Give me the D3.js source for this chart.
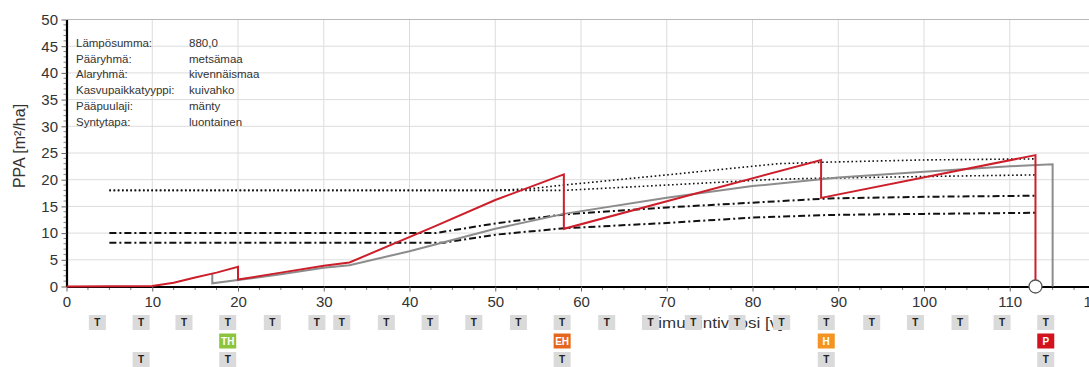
<!DOCTYPE html>
<html><head><meta charset="utf-8">
<script src="https://cdn.jsdelivr.net/npm/d3@7"></script>
<style>
body{margin:0;background:#fff;}
svg{display:block;font-family:"Liberation Sans",Arial,sans-serif;}
</style>
</head><body>
<svg id="c" width="1089" height="367"></svg>
<script>
// ---- data ----
const redX = [0, 10, 12.5, 15, 17.5, 20, 20, 25, 30, 33, 43, 50, 58, 58, 88, 88, 113, 113];
const redY = [0, 0.1, 0.7, 1.7, 2.6, 3.7, 1.3, 2.6, 3.9, 4.5, 11.3, 16.2, 21.0, 10.8, 23.7, 16.6, 24.6, 0];

const grayX = [17, 17, 20, 25, 30, 33, 40, 50, 58, 70, 80, 90, 100, 110, 115, 115];
const grayY = [2.5, 0.6, 1.2, 2.3, 3.5, 4.0, 6.6, 10.8, 13.6, 16.6, 18.8, 20.4, 21.5, 22.5, 22.9, 0];

const dotUpperX = [5, 50, 54, 58, 70, 83, 89, 100, 113];
const dotUpperY = [18, 18, 18.3, 19.0, 20.9, 23.0, 23.3, 23.7, 23.9];
const dotLowerX = [5, 58, 70, 83, 89, 100, 113];
const dotLowerY = [18, 18, 19.0, 20.1, 20.3, 20.6, 20.9];

const ddUpperX = [5, 43, 50, 58, 70, 80, 89, 100, 113];
const ddUpperY = [10, 10, 11.8, 13.5, 14.8, 15.7, 16.5, 16.8, 17.0];
const ddLowerX = [5, 44, 50, 58, 70, 80, 89, 100, 113];
const ddLowerY = [8.2, 8.2, 9.7, 10.9, 11.9, 12.9, 13.4, 13.6, 13.8];

const endMarkerX = [113];
const endMarkerY = [0];

const xTicks = [0, 10, 20, 30, 40, 50, 60, 70, 80, 90, 100, 110, 120];
const yTicks = [0, 5, 10, 15, 20, 25, 30, 35, 40, 45, 50];

const infoLabels = ["Lämpösumma:", "Pääryhmä:", "Alaryhmä:", "Kasvupaikkatyyppi:", "Pääpuulaji:", "Syntytapa:"];
const infoValues = ["880,0", "metsämaa", "kivennäismaa", "kuivahko", "mänty", "luontainen"];

const tagRow1Years = [3.6, 8.7, 13.7, 18.8, 24.0, 29.2, 32.1, 37.3, 42.4, 47.5, 52.7, 57.8, 63.0, 68.1, 73.1, 78.2, 83.4, 88.6, 93.9, 99.0, 104.2, 109.1, 114.2];
const tagRow2Years = [18.8, 57.8, 88.6, 114.2];
const tagRow2Labels = ["TH", "EH", "H", "P"];
const tagRow2Colors = ["#8cc43c", "#e4661f", "#f39422", "#d2121c"];
const tagRow3Years = [8.7, 18.8, 57.8, 88.6, 114.2];

const yLabel = "PPA [m²/ha]";
const xLabel = "Simulointivuosi [v]";

// ---- chart ----
const svg = d3.select("#c");
const x = d3.scaleLinear().domain([0, 120]).range([66.5, 1095.5]);
const y = d3.scaleLinear().domain([0, 50]).range([286.5, 19.5]);

// grid
svg.append("g").selectAll("line").data(xTicks.filter(d => d > 0)).join("line")
  .attr("x1", d => x(d)).attr("x2", d => x(d)).attr("y1", y(50)).attr("y2", y(0))
  .attr("stroke", "#dcdcdc").attr("stroke-width", 1);
svg.append("g").selectAll("line").data(yTicks.filter(d => d > 0)).join("line")
  .attr("x1", x(0)).attr("x2", x(120)).attr("y1", d => y(d)).attr("y2", d => y(d))
  .attr("stroke", d => d === 50 ? "#b8b8b8" : "#dcdcdc").attr("stroke-width", 1);

// minor ticks
svg.append("g").selectAll("line").data(d3.range(0, 120.1, 2.5).filter(d => d % 10 !== 0)).join("line")
  .attr("x1", d => x(d)).attr("x2", d => x(d)).attr("y1", y(0)).attr("y2", y(0) + 3.5)
  .attr("stroke", "#777").attr("stroke-width", 1);
svg.append("g").selectAll("line").data(d3.range(0, 50.1, 1).filter(d => d % 5 !== 0)).join("line")
  .attr("x1", x(0) - 3).attr("x2", x(0)).attr("y1", d => y(d)).attr("y2", d => y(d))
  .attr("stroke", "#888").attr("stroke-width", 1);

// axes
const xAxis = svg.append("g").attr("transform", `translate(0,${y(0)})`)
  .call(d3.axisBottom(x).tickValues(xTicks).tickFormat(d3.format("d")).tickSize(5).tickSizeOuter(0).tickPadding(5));
const yAxis = svg.append("g").attr("transform", `translate(${x(0)},0)`)
  .call(d3.axisLeft(y).tickValues(yTicks).tickFormat(d3.format("d")).tickSize(5).tickSizeOuter(0).tickPadding(3.5));
[xAxis, yAxis].forEach(g => {
  g.select(".domain").attr("stroke", "#000").attr("stroke-width", 2.2);
  g.selectAll(".tick line").attr("stroke", "#666");
  g.selectAll(".tick text").attr("fill", "#333").style("font-size", "15px")
    .style("font-family", '"Liberation Sans",Arial,sans-serif');
});

// y label
svg.append("text").attr("transform", `translate(25,146) rotate(-90)`).attr("text-anchor", "middle")
  .attr("fill", "#333").style("font-size", "16px").text(yLabel);

// info text
const info = svg.append("g").style("font-size", "11.5px").attr("fill", "#333");
info.selectAll("text.l").data(infoLabels).join("text").attr("class", "l")
  .attr("x", 76).attr("y", (d, i) => 47 + i * 15.7).text(d => d);
info.selectAll("text.v").data(infoValues).join("text").attr("class", "v")
  .attr("x", 189).attr("y", (d, i) => 47 + i * 15.7).text(d => d);

// lines
const line = d3.line().x(d => x(d[0])).y(d => y(d[1]));
const zip = (a, b) => a.map((v, i) => [v, b[i]]);

const g = svg.append("g").attr("fill", "none");
g.append("path").attr("d", line(zip(dotUpperX, dotUpperY))).attr("stroke", "#111").attr("stroke-width", 1.6).attr("stroke-dasharray", "1.6,2.6");
g.append("path").attr("d", line(zip(dotLowerX, dotLowerY))).attr("stroke", "#111").attr("stroke-width", 1.6).attr("stroke-dasharray", "1.6,2.6");
g.append("path").attr("d", line(zip(ddUpperX, ddUpperY))).attr("stroke", "#111").attr("stroke-width", 2).attr("stroke-dasharray", "7,3,2,3");
g.append("path").attr("d", line(zip(ddLowerX, ddLowerY))).attr("stroke", "#111").attr("stroke-width", 2).attr("stroke-dasharray", "7,3,2,3");
g.append("path").attr("d", line(zip(grayX, grayY))).attr("stroke", "#8c8c8c").attr("stroke-width", 2);
g.append("path").attr("d", line(zip(redX, redY))).attr("stroke", "#cc1f2b").attr("stroke-width", 2);

svg.append("g").selectAll("circle").data(zip(endMarkerX, endMarkerY)).join("circle")
  .attr("cx", d => x(d[0])).attr("cy", d => y(d[1])).attr("r", 6.5)
  .attr("fill", "#fff").attr("stroke", "#555").attr("stroke-width", 1.3);

// x label (partly covered by event tags, as in the original)
svg.append("text").attr("x", 647).attr("y", 328).attr("fill", "#333")
  .style("font-size", "15px").attr("textLength", 136).attr("lengthAdjust", "spacingAndGlyphs").text(xLabel);

// event tags
const bw = 17, bh = 15;
function tags(years, labels, colors, top, textColor) {
  const tg = svg.append("g").selectAll("g").data(years).join("g")
    .attr("transform", d => `translate(${x(d) - bw / 2},${top})`);
  tg.append("rect").attr("width", bw).attr("height", bh).attr("fill", (d, i) => colors[i]);
  tg.append("text").attr("x", bw / 2).attr("y", 11).attr("text-anchor", "middle")
    .attr("fill", textColor).style("font-size", "10px").style("font-weight", "bold")
    .text((d, i) => labels[i]);
}
tags(tagRow1Years, tagRow1Years.map(() => "T"), tagRow1Years.map(() => "#dadada"), 315, "#222");
tags(tagRow2Years, tagRow2Labels, tagRow2Colors, 333.5, "#fff");
tags(tagRow3Years, tagRow3Years.map(() => "T"), tagRow3Years.map(() => "#dadada"), 352, "#222");
</script>
</body></html>
